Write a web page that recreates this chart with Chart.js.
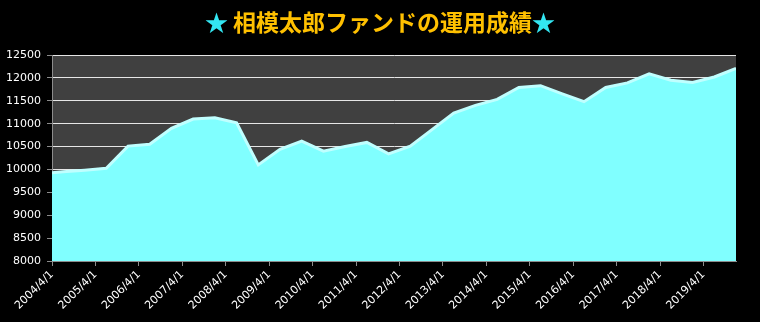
<!DOCTYPE html>
<html>
<head>
<meta charset="utf-8">
<script src="https://cdn.jsdelivr.net/npm/chart.js@4"></script>
<style>
  html, body { margin: 0; padding: 0; background: #000; }
  #wrap { width: 760px; height: 322px; }
</style>
</head>
<body>
<div id="wrap"><canvas id="fundChart" width="760" height="322"></canvas></div>
<script>
// 相模太郎ファンド 基準価額（半年ごと）
const dates = [
    '2004/4', '2004/7', '2005/1', '2005/7', '2006/1', '2006/7', '2007/1', '2007/7',
    '2008/1', '2008/7', '2009/1', '2009/7', '2010/1', '2010/7', '2011/1', '2011/7',
    '2012/1', '2012/7', '2013/1', '2013/7', '2014/1', '2014/7', '2015/1', '2015/7',
    '2016/1', '2016/7', '2017/1', '2017/7', '2018/1', '2018/7', '2019/1', '2019/7',
    '2020/1'
];
const values = [
    9930, 9950, 9985, 10025, 10510, 10550, 10900, 11100,
    11130, 11020, 10100, 10440, 10620, 10400, 10500, 10590,
    10340, 10510, 10870, 11230, 11400, 11530, 11790, 11830,
    11650, 11480, 11790, 11890, 12090, 11950, 11900, 12020,
    12210
];
const tickLabels = [
    '2004/4/1', '2005/4/1', '2006/4/1', '2007/4/1', '2008/4/1', '2009/4/1', '2010/4/1', '2011/4/1',
    '2012/4/1', '2013/4/1', '2014/4/1', '2015/4/1', '2016/4/1', '2017/4/1', '2018/4/1', '2019/4/1'
];
const titleParts = [
    { text: '★ ', color: '#33E6F2' },
    { text: '相模太郎ファンドの運用成績', color: '#FFC000' },
    { text: '★', color: '#33E6F2' }
];

// months counted from 2004/4
function toMonth(s) {
    const [y, m] = s.split('/').map(Number);
    return (y - 2004) * 12 + (m - 4);
}

const points = dates.map((d, i) => ({ x: toMonth(d), y: values[i] }));
const tickMonths = tickLabels.map(toMonth);
const labelByMonth = {};
tickLabels.forEach((l, i) => { labelByMonth[tickMonths[i]] = l; });

const plotBg = {
    id: 'plotBg',
    beforeDraw(chart) {
        const { ctx, chartArea: a } = chart;
        ctx.save();
        ctx.fillStyle = '#000';
        ctx.fillRect(0, 0, chart.width, chart.height);
        ctx.fillStyle = '#404040';
        ctx.fillRect(a.left, a.top, a.right - a.left, a.bottom - a.top);
        ctx.restore();
    }
};

const multiTitle = {
    id: 'multiTitle',
    afterDraw(chart) {
        const ctx = chart.ctx;
        ctx.save();
        ctx.font = 'bold 23px "Noto Sans CJK JP", sans-serif';
        ctx.textBaseline = 'middle';
        ctx.textAlign = 'left';
        const total = titleParts.reduce((w, p) => w + ctx.measureText(p.text).width, 0);
        let x = chart.width / 2 - total / 2;
        titleParts.forEach(p => {
            ctx.fillStyle = p.color;
            ctx.fillText(p.text, x, 22);
            x += ctx.measureText(p.text).width;
        });
        ctx.restore();
    }
};

const tickFont = { family: '"DejaVu Sans", sans-serif', size: 11 };

new Chart(document.getElementById('fundChart').getContext('2d'), {
    type: 'line',
    data: {
        datasets: [{
            data: points,
            fill: 'start',
            backgroundColor: '#80FFFF',
            borderColor: '#C0FFFF',
            borderWidth: 3,
            pointRadius: 0,
            tension: 0
        }]
    },
    options: {
        responsive: false,
        animation: false,
        parsing: false,
        layout: { padding: { top: 55, right: 24, left: 0, bottom: 0 } },
        plugins: {
            legend: { display: false },
            title: { display: false },
            tooltip: { enabled: false }
        },
        scales: {
            x: {
                type: 'linear',
                min: 0,
                max: toMonth(dates[dates.length - 1]),
                afterBuildTicks: axis => {
                    axis.ticks = tickMonths.map(v => ({ value: v }));
                },
                afterFit: s => { s.height = 61; },
                ticks: {
                    color: '#FFFFFF',
                    font: tickFont,
                    maxRotation: 45,
                    minRotation: 45,
                    autoSkip: false,
                    padding: 2,
                    callback: v => labelByMonth[v] || ''
                },
                grid: {
                    drawOnChartArea: false,
                    drawTicks: true,
                    tickLength: 5,
                    tickColor: '#8C8C8C'
                },
                border: { color: '#8C8C8C' }
            },
            y: {
                min: 8000,
                max: 12500,
                afterFit: s => { s.width = 52; },
                ticks: {
                    stepSize: 500,
                    color: '#FFFFFF',
                    font: tickFont,
                    padding: 6,
                    callback: v => String(v)
                },
                grid: {
                    color: '#E6E6E6',
                    tickColor: '#8C8C8C',
                    tickLength: 5
                },
                border: { color: '#8C8C8C' }
            }
        }
    },
    plugins: [plotBg, multiTitle]
});
</script>
</body>
</html>
